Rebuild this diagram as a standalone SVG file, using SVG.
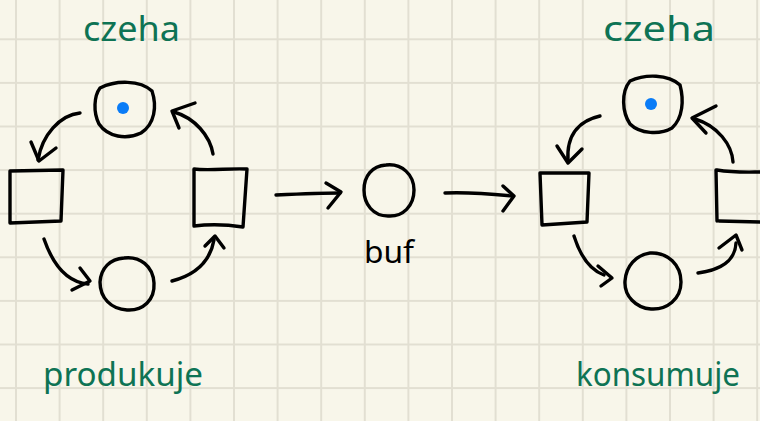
<svg xmlns="http://www.w3.org/2000/svg" width="760" height="421" viewBox="0 0 760 421">
  <defs>
    <pattern id="grid" x="15" y="-5.3" width="43.6" height="43.6" patternUnits="userSpaceOnUse">
      <rect x="0" y="0" width="2" height="43.6" fill="#e2dfd2"/>
      <rect x="0" y="0" width="43.6" height="2" fill="#e2dfd2"/>
    </pattern>
    <style>
      .ink { fill: none; stroke: #000; stroke-width: 3.4; stroke-linecap: round; stroke-linejoin: round; }
      .token { fill: #0a7cf7; }
      .note { fill: #0e7354; font-family: "Noto Sans", "DejaVu Sans", sans-serif; }
      .label { fill: #000; font-family: "Noto Sans", "DejaVu Sans", sans-serif; }
    </style>
  </defs>

  <!-- paper -->
  <rect width="760" height="421" fill="#f8f6ea"/>
  <rect width="760" height="421" fill="url(#grid)"/>

  <!-- headings -->
  <text class="note" x="83" y="41" font-size="34" textLength="97" lengthAdjust="spacingAndGlyphs">czeha</text>
  <text class="note" x="603" y="41" font-size="34" textLength="112" lengthAdjust="spacingAndGlyphs">czeha</text>
  <text class="note" x="43" y="386" font-size="32" textLength="160" lengthAdjust="spacingAndGlyphs">produkuje</text>
  <text class="note" x="576" y="386" font-size="32" textLength="164" lengthAdjust="spacingAndGlyphs">konsumuje</text>

  <!-- producer net -->
  <g id="prod-ready">
    <path class="ink" d="M100,88 C116,80 140,80 152,91 C157,106 155,124 141,133 C126,140 108,137 99,124 C93,112 94,96 100,88 Z"/>
    <circle class="token" cx="123" cy="108" r="6"/>
  </g>
  <g id="prod-make">
    <path class="ink" d="M10,171 L63,170 L61,221 L10,223 Z"/>
  </g>
  <g id="prod-done">
    <path class="ink" d="M124,258 C140,256 153,266 154,283 C155,300 143,311 127,310 C111,309 100,298 100,282 C101,268 110,259 124,258 Z"/>
  </g>
  <g id="prod-put">
    <path class="ink" d="M194,169 C210,171 230,168 247,169 L243,227 C230,225 210,224 194,226 Z"/>
  </g>

  <!-- buffer -->
  <g id="buf">
    <path class="ink" d="M386,165 C402,163 414,175 414,190 C414,206 403,217 388,216 C373,216 364,204 364,190 C364,176 372,166 386,165 Z"/>
    <text class="label" x="364" y="263" font-size="30" textLength="50" lengthAdjust="spacingAndGlyphs">buf</text>
  </g>

  <!-- consumer net -->
  <g id="cons-ready">
    <path class="ink" d="M630,81 C645,74 668,74 680,85 C684,100 683,118 672,128 C660,135 640,134 630,124 C622,112 621,92 630,81 Z"/>
    <circle class="token" cx="651" cy="104" r="6"/>
  </g>
  <g id="cons-take">
    <path class="ink" d="M540,173 L589,173 L587,222 L542,225 Z"/>
  </g>
  <g id="cons-done">
    <path class="ink" d="M650,253 C668,252 681,265 681,282 C681,299 667,310 651,309 C636,308 624,296 625,281 C626,266 636,255 650,253 Z"/>
  </g>
  <g id="cons-use">
    <path class="ink" d="M717,170 C735,173 750,172 762,172 M716,170 L717,221 M719,221 L762,222"/>
  </g>

  <!-- arcs -->
  <g id="connectors">
    <!-- producer cycle -->
    <path class="ink" d="M80,113 C60,115 42,135 38,160"/>
    <path class="ink" d="M31,142 L39,161 L56,148"/>
    <path class="ink" d="M44,239 C52,262 65,282 88,284"/>
    <path class="ink" d="M80,268 L90,281 L72,290"/>
    <path class="ink" d="M172,281 C195,275 210,262 214,240"/>
    <path class="ink" d="M205,246 L215,236 L224,248"/>
    <path class="ink" d="M213,154 C210,136 195,118 174,112"/>
    <path class="ink" d="M195,103 L172,111 L179,128"/>
    <!-- producer to buffer, buffer to consumer -->
    <path class="ink" d="M276,195 C298,194 320,193 340,193"/>
    <path class="ink" d="M326,183 L341,192 L328,208"/>
    <path class="ink" d="M445,193 C468,192 492,194 512,196"/>
    <path class="ink" d="M503,186 L514,196 L503,211"/>
    <!-- consumer cycle -->
    <path class="ink" d="M600,116 C582,120 566,132 568,161"/>
    <path class="ink" d="M557,146 L568,163 L582,149"/>
    <path class="ink" d="M574,236 C580,255 590,270 604,275"/>
    <path class="ink" d="M598,266 L612,278 L601,286"/>
    <path class="ink" d="M698,273 C720,270 735,262 736,243"/>
    <path class="ink" d="M719,248 L736,235 L742,250"/>
    <path class="ink" d="M733,162 C732,145 718,126 695,119"/>
    <path class="ink" d="M716,106 L692,118 L706,133"/>
  </g>
</svg>
